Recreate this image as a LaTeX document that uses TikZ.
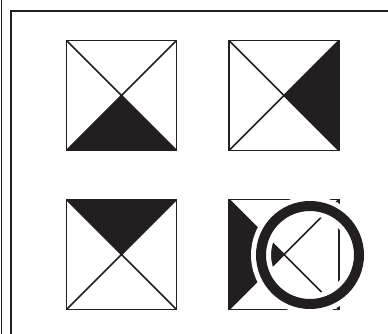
\documentclass[tikz,border=0pt]{standalone}
\definecolor{inkblack}{HTML}{231F20}

\begin{document}
\begin{tikzpicture}[
  x=1pt,
  y=-1pt,
  line join=miter,
  edge/.style={draw=inkblack,line width=1.8pt},
  diag/.style={draw=inkblack,line width=1.5pt},
  wedge/.style={fill=inkblack,draw=none},
  frameline/.style={draw=inkblack,line width=1.8pt},
  halo/.style={draw=white,line width=20pt},
  ring/.style={draw=inkblack,line width=10pt}
]
  \newcommand{\drawcell}[2]{%
    \fill[wedge] (M) -- (#1) -- (#2) -- cycle;
    \draw[diag] (NW) -- (SE) (NE) -- (SW);
    \draw[edge] (NW) rectangle (SE);
  }
  \newcommand{\setcorners}{%
    \coordinate (NW) at (0,0);
    \coordinate (NE) at (110,0);
    \coordinate (SE) at (110,110);
    \coordinate (SW) at (0,110);
    \coordinate (M) at (55,55);
  }

  \useasboundingbox (0,0) rectangle (388,334);

  % Page frame, cut off at the right and bottom.
  \coordinate (Ltop) at (1.5,0);
  \coordinate (Lbot) at (1.5,334);
  \draw[inkblack,line width=1.5pt] (Ltop) -- (Lbot);
  \coordinate (Fbot) at (11,334);
  \coordinate (Fcorner) at (11,11);
  \coordinate (Fright) at (388,11);
  \draw[frameline] (Fbot) -- (Fcorner) -- (Fright);

  % Upper row.
  \begin{scope}[shift={(66.5,40.5)}]
    \setcorners
    \drawcell{SW}{SE}
  \end{scope}

  \begin{scope}[shift={(229,40.5)}]
    \setcorners
    \drawcell{NE}{SE}
  \end{scope}

  % Lower row.
  \begin{scope}[shift={(66.5,199.5)}]
    \setcorners
    \drawcell{NW}{NE}
  \end{scope}

  \begin{scope}[shift={(229,199.5)}]
    \setcorners
    \drawcell{NW}{SW}
    \coordinate (C) at (81,55.5);
    \draw[halo] (C) circle[radius=49];
    \draw[ring] (C) circle[radius=49];
  \end{scope}
\end{tikzpicture}
\end{document}
